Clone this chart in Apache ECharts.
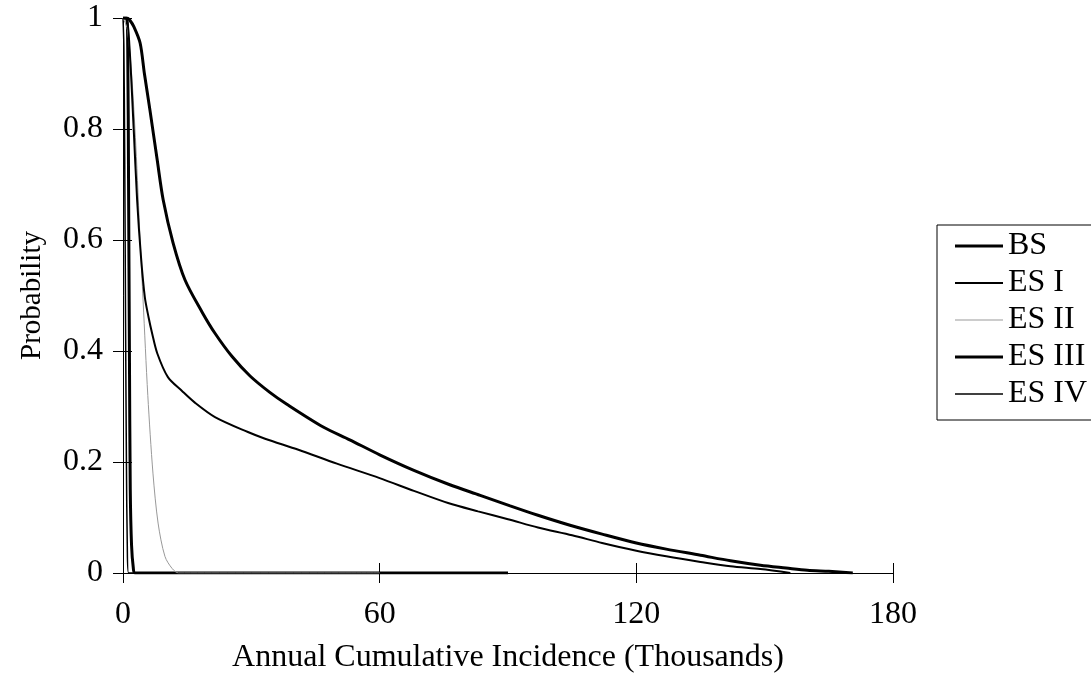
<!DOCTYPE html>
<html>
<head>
<meta charset="utf-8">
<script src="https://cdn.jsdelivr.net/npm/echarts@6/dist/echarts.min.js"></script>
<style>html,body{margin:0;padding:0;background:#fff;}#chart{width:1091px;height:699px;}</style>
</head>
<body>
<div id="chart"></div>
<script>
const seriesNames = ['BS', 'ES I', 'ES II', 'ES III', 'ES IV'];
const xTicks = [0, 60, 120, 180];
const yTicks = [0, 0.2, 0.4, 0.6, 0.8, 1];

const bsX = [0, 1, 1.6, 2.5, 4, 5, 6.3, 8, 9.4, 11.7, 14.5, 18.5, 21.5, 25.5, 29.7, 34.4, 38.3, 46.8, 53, 60, 68, 76.4, 83.5, 90.5, 97, 104.5, 112, 120, 127, 135, 142, 149, 155, 160, 165, 170.6];
const bsY = [1, 1, 0.996, 0.985, 0.955, 0.9, 0.834, 0.744, 0.672, 0.595, 0.528, 0.47, 0.432, 0.39, 0.355, 0.325, 0.304, 0.263, 0.24, 0.213, 0.185, 0.159, 0.14, 0.121, 0.104, 0.086, 0.07, 0.054, 0.043, 0.032, 0.022, 0.014, 0.009, 0.005, 0.003, 0];

const es1X = [0, 0.8, 1.5, 2.5, 3.3, 4.2, 5.1, 6, 6.8, 8, 10.5, 13.8, 16.8, 21.5, 29.2, 33.2, 41, 50, 60, 68, 76, 83, 90, 97, 105, 112, 120, 127, 135, 142, 149, 156];
const es1Y = [1, 1, 0.95, 0.8, 0.672, 0.57, 0.497, 0.46, 0.432, 0.396, 0.353, 0.328, 0.307, 0.281, 0.254, 0.242, 0.222, 0.197, 0.171, 0.148, 0.126, 0.111, 0.097, 0.082, 0.068, 0.054, 0.04, 0.03, 0.02, 0.012, 0.007, 0];

const es2X = [0, 1, 2, 3, 4, 4.7, 5.8, 7, 8.2, 9.8, 11.5, 13, 60];
const es2Y = [1, 0.98, 0.9, 0.77, 0.6, 0.49, 0.32, 0.18, 0.09, 0.03, 0.008, 0, 0];

const es3X = [0, 0.8, 1.1, 1.3, 1.5, 1.7, 2.0, 2.4, 2.8, 90];
const es3Y = [1, 1, 0.95, 0.7, 0.4, 0.15, 0.05, 0.01, 0, 0];

const es4X = [0, 0.2, 0.4, 0.6, 0.8, 1.0, 1.3, 20];
const es4Y = [1, 0.95, 0.75, 0.45, 0.2, 0.05, 0, 0];

function pairs(xs, ys) { return xs.map((x, i) => [x, ys[i]]); }

const FONT = 'Liberation Serif';
const FS = 32;
const styles = [
  { color: '#000', width: 3 },
  { color: '#000', width: 2 },
  { color: '#999', width: 1 },
  { color: '#000', width: 3 },
  { color: '#000', width: 1.5 }
];
const datas = [pairs(bsX, bsY), pairs(es1X, es1Y), pairs(es2X, es2Y), pairs(es3X, es3Y), pairs(es4X, es4Y)];

const chart = echarts.init(document.getElementById('chart'), null, { renderer: 'canvas' });
const axisCommon = {
  type: 'value',
  splitLine: { show: false },
  axisLine: { show: true, lineStyle: { color: '#000', width: 1 } }
};
chart.setOption({
  animation: false,
  backgroundColor: '#fff',
  grid: { left: 123, right: 198, top: 18, bottom: 126 },
  legend: {
    orient: 'vertical',
    left: 937, top: 225,
    data: seriesNames.map((n, i) => ({
      name: n,
      icon: 'path://M0,0H48V' + styles[i].width + 'H0Z'
    })),
    itemWidth: 48, itemHeight: 14, itemGap: 5,
    itemStyle: { borderWidth: 0 },
    borderColor: '#000', borderWidth: 1,
    padding: [5, 40, 10, 18],
    textStyle: { fontFamily: FONT, fontSize: FS, color: '#000', lineHeight: 32 }
  },
  xAxis: [
    Object.assign({}, axisCommon, {
      min: 0, max: 180, interval: 60,
      name: 'Annual Cumulative Incidence (Thousands)',
      nameLocation: 'middle', nameGap: 69,
      nameTextStyle: { fontFamily: FONT, fontSize: FS, color: '#000' },
      axisTick: { show: true, inside: false, length: 10, lineStyle: { color: '#000' } },
      axisLabel: { fontFamily: FONT, fontSize: FS, color: '#000', margin: 26 }
    }),
    Object.assign({}, axisCommon, {
      min: 0, max: 180, interval: 60, position: 'bottom',
      axisTick: { show: true, inside: true, length: 10, lineStyle: { color: '#000' } },
      axisLabel: { show: false }
    })
  ],
  yAxis: [
    Object.assign({}, axisCommon, {
      min: 0, max: 1, interval: 0.2,
      name: 'Probability',
      nameLocation: 'middle', nameGap: 76,
      nameTextStyle: { fontFamily: FONT, fontSize: 29, color: '#000' },
      axisTick: { show: true, inside: false, length: 10, lineStyle: { color: '#000' } },
      axisLabel: { fontFamily: FONT, fontSize: FS, color: '#000', margin: 20 }
    }),
    Object.assign({}, axisCommon, {
      min: 0, max: 1, interval: 0.2, position: 'left',
      axisTick: { show: true, inside: true, length: 9, lineStyle: { color: '#000' } },
      axisLabel: { show: false }
    })
  ],
  series: seriesNames.map((n, i) => ({
    name: n,
    type: 'line',
    data: datas[i],
    symbol: 'none',
    smooth: 0.3,
    color: styles[i].color,
    lineStyle: { color: styles[i].color, width: styles[i].width },
    z: 5 - i
  }))
});
</script>
</body>
</html>
